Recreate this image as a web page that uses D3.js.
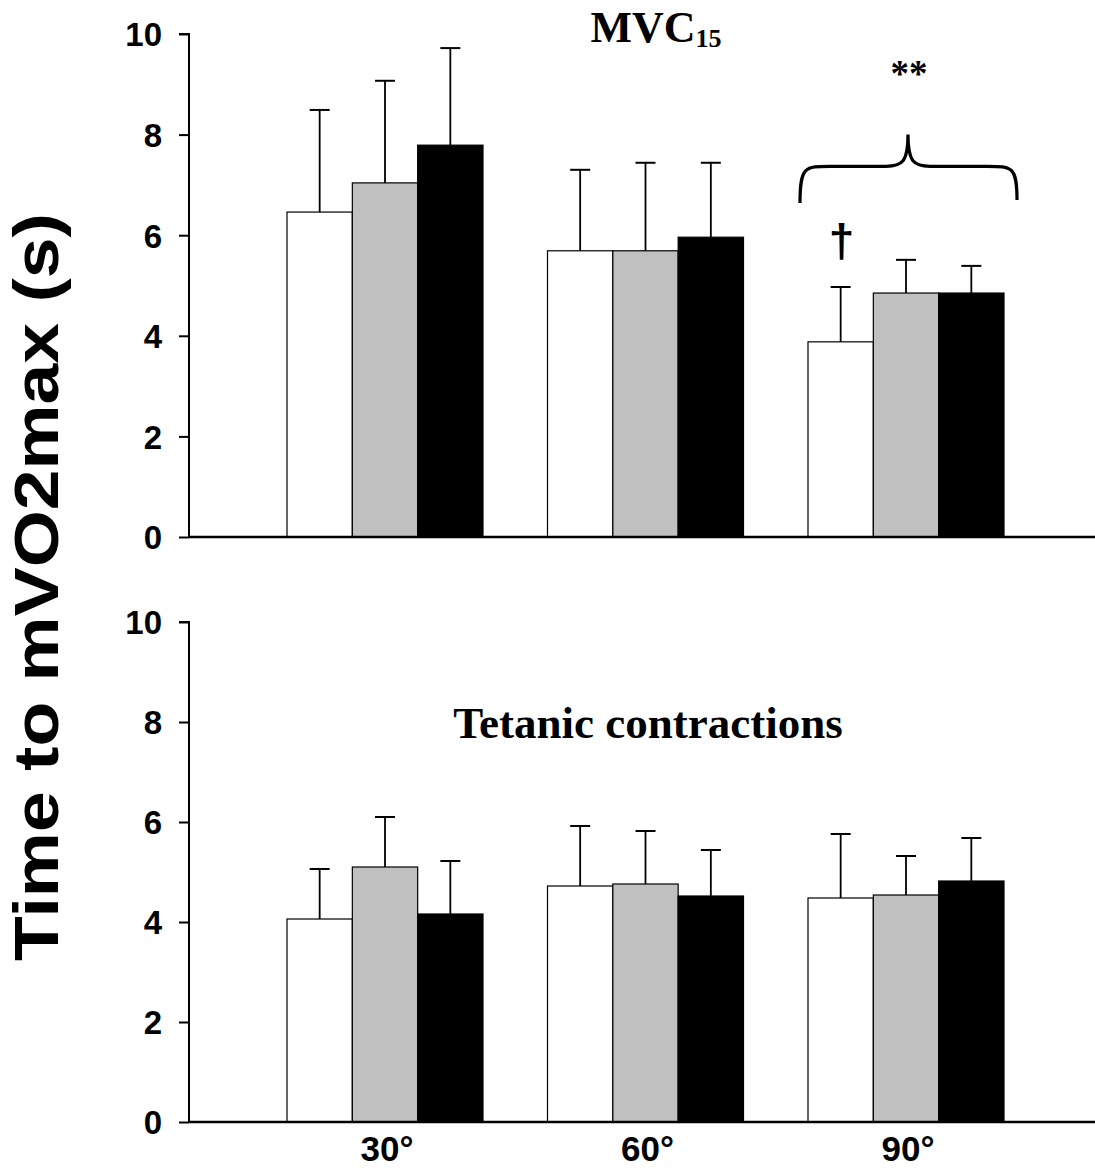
<!DOCTYPE html>
<html>
<head>
<meta charset="utf-8">
<script src="https://cdn.jsdelivr.net/npm/d3@7"></script>
<style>
  html, body { margin: 0; padding: 0; background: #fff; }
  svg { display: block; }
</style>
</head>
<body>
<svg id="chart" width="1095" height="1171"></svg>
<script>
// Joint angles and the three conditions drawn within each angle group
const angles = ["30°", "60°", "90°"];
const conditions = ["a", "b", "c"];
const conditionFill = ["#ffffff", "#c0c0c0", "#000000"];
const yTicks = [0, 2, 4, 6, 8, 10];

// MVC15 panel: mean and upper error (mean + SD) per angle, per condition
const mvcMean = [
  [6.46, 7.04, 7.79],
  [5.69, 5.69, 5.96],
  [3.88, 4.85, 4.85]
];
const mvcUpper = [
  [8.49, 9.07, 9.72],
  [7.30, 7.44, 7.44],
  [4.97, 5.51, 5.39]
];

// Tetanic contraction panel
const tetMean = [
  [4.06, 5.10, 4.16],
  [4.72, 4.76, 4.52],
  [4.48, 4.54, 4.82]
];
const tetUpper = [
  [5.06, 6.10, 5.22],
  [5.92, 5.82, 5.44],
  [5.76, 5.32, 5.68]
];

const svg = d3.select("#chart");
const axisX = 189;
const axisRight = 1095;
const sans = "Liberation Sans, Arial, sans-serif";
const serif = "Liberation Serif, 'DejaVu Serif', serif";

const xGroup = d3.scalePoint().domain(angles).range([385, 906]);
const xSub = d3.scaleBand().domain(conditions).range([-98, 98]).padding(0);

function panel(top, bottom, means, uppers) {
  const y = d3.scaleLinear().domain([0, 10]).range([bottom, top]);
  const g = svg.append("g");

  // bars
  angles.forEach((a, i) => {
    conditions.forEach((c, j) => {
      const x0 = xGroup(a) + xSub(c);
      g.append("rect")
        .attr("x", x0)
        .attr("y", y(means[i][j]))
        .attr("width", xSub.bandwidth())
        .attr("height", y(0) - y(means[i][j]))
        .attr("fill", conditionFill[j])
        .attr("stroke", "#000")
        .attr("stroke-width", 1.2);
    });
  });

  // upper error bars
  angles.forEach((a, i) => {
    conditions.forEach((c, j) => {
      const cx = xGroup(a) + xSub(c) + xSub.bandwidth() / 2;
      g.append("line")
        .attr("x1", cx).attr("x2", cx)
        .attr("y1", y(means[i][j])).attr("y2", y(uppers[i][j]))
        .attr("stroke", "#000").attr("stroke-width", 1.8);
      g.append("line")
        .attr("x1", cx - 10).attr("x2", cx + 10)
        .attr("y1", y(uppers[i][j])).attr("y2", y(uppers[i][j]))
        .attr("stroke", "#000").attr("stroke-width", 2);
    });
  });

  // y axis
  const yAxis = d3.axisLeft(y).tickValues(yTicks).tickSize(10).tickPadding(17).tickFormat(d3.format("d"));
  const ga = g.append("g").attr("transform", `translate(${axisX},0)`).call(yAxis);
  ga.select(".domain").attr("stroke", "#000").attr("stroke-width", 2).attr("d", `M-10,${top}H0V${bottom}`);
  ga.selectAll(".tick line").attr("stroke", "#000").attr("stroke-width", 2);
  ga.selectAll(".tick text")
    .attr("font-family", sans)
    .attr("font-weight", "bold")
    .attr("font-size", 33)
    .attr("dy", "0.36em")
    .attr("fill", "#000");

  // baseline
  g.append("line")
    .attr("x1", axisX).attr("x2", axisRight)
    .attr("y1", y(0)).attr("y2", y(0))
    .attr("stroke", "#000").attr("stroke-width", 2.5);

  return y;
}

const yTop = panel(34, 537, mvcMean, mvcUpper);
const yBot = panel(622, 1122, tetMean, tetUpper);

// category labels under the lower panel
svg.append("g").selectAll("text").data(angles).join("text")
  .attr("x", d => xGroup(d) + 2)
  .attr("y", 1161)
  .attr("text-anchor", "middle")
  .attr("font-family", sans)
  .attr("font-weight", "bold")
  .attr("font-size", 35)
  .text(d => d);

// y axis title
svg.append("text")
  .attr("transform", "translate(58,587) rotate(-90)")
  .attr("text-anchor", "middle")
  .attr("font-family", sans)
  .attr("font-weight", "bold")
  .attr("font-size", 63)
  .attr("textLength", 748)
  .attr("lengthAdjust", "spacingAndGlyphs")
  .text("Time to mVO2max (s)");

// panel titles
const mvcTitle = svg.append("text")
  .attr("x", 656).attr("y", 42)
  .attr("text-anchor", "middle")
  .attr("font-family", serif)
  .attr("font-weight", "bold")
  .attr("font-size", 44);
mvcTitle.append("tspan").text("MVC");
mvcTitle.append("tspan").attr("font-size", 26).attr("dy", 5).text("15");

svg.append("text")
  .attr("x", 648).attr("y", 738)
  .attr("text-anchor", "middle")
  .attr("font-family", serif)
  .attr("font-weight", "bold")
  .attr("font-size", 45)
  .text("Tetanic contractions");

// significance markers over the 90° group
const g90 = xGroup("90°");
svg.append("text")
  .attr("x", g90 + 3).attr("y", 86)
  .attr("text-anchor", "middle")
  .attr("font-family", serif)
  .attr("font-weight", "bold")
  .attr("font-size", 37)
  .text("**");

const bx0 = 800, bx1 = 1017, tip = g90 + 2;
const yb = yTop(7.37);
svg.append("path")
  .attr("d", `M${bx0},${yTop(6.64)} C${bx0},${yb} ${bx0 + 5},${yb} ${bx0 + 30},${yb}
              L${tip - 22},${yb} C${tip - 6},${yb} ${tip},${yb - 4} ${tip},${yTop(8.0)}
              C${tip},${yb - 4} ${tip + 6},${yb} ${tip + 22},${yb}
              L${bx1 - 30},${yb} C${bx1 - 5},${yb} ${bx1},${yb} ${bx1},${yTop(6.7)}`)
  .attr("fill", "none")
  .attr("stroke", "#000")
  .attr("stroke-width", 3.2);

svg.append("text")
  .attr("x", xGroup("90°") + xSub("a") + xSub.bandwidth() / 2 + 1)
  .attr("y", 257)
  .attr("text-anchor", "middle")
  .attr("font-family", sans)
  .attr("font-weight", "bold")
  .attr("font-size", 46)
  .text("†");
</script>
</body>
</html>
